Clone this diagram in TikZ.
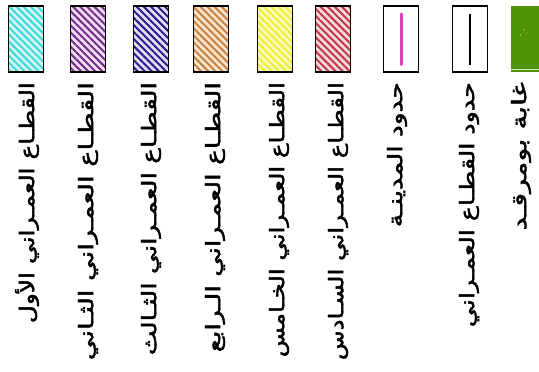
\documentclass[tikz,border=0pt]{standalone}
\usepackage{fontspec}
\usepackage{graphicx}
\usetikzlibrary{patterns.meta}
\TeXXeTstate=1
\newfontfamily\arabicfont[Script=Arabic,FakeBold=2]{DejaVu Sans}
\newcommand{\arlen}[2]{\resizebox{#1pt}{\height}{#2}}
\definecolor{cA}{HTML}{3DD9D6}\definecolor{bA}{HTML}{D4F6F5}
\definecolor{cB}{HTML}{70308A}\definecolor{bB}{HTML}{F3DDF3}
\definecolor{cC}{HTML}{2E1A8C}\definecolor{bC}{HTML}{E2DEF6}
\definecolor{cD}{HTML}{C8803A}\definecolor{bD}{HTML}{F6E6D2}
\definecolor{cE}{HTML}{EDED3A}\definecolor{bE}{HTML}{FBFBB8}
\definecolor{cF}{HTML}{C0384A}\definecolor{bF}{HTML}{F6DADA}
\definecolor{pinkline}{HTML}{E23DB4}
\definecolor{forest}{HTML}{4F9406}
\tikzset{
  swatch/.style={draw=black, line width=1.5pt, minimum width=35pt, minimum height=66pt, inner sep=0pt, anchor=north},
  hatch/.style 2 args={preaction={fill=#2}, preaction={pattern={Lines[angle=-45,distance=5pt,line width=2pt]}, pattern color=#1}},
  lbl/.style={rotate=90, anchor=east, inner sep=0pt, font=\arabicfont\fontsize{20}{20}\selectfont},
  bar/.style={line width=3pt, line cap=round},
}
\begin{document}
\begin{tikzpicture}[x=1pt,y=-1pt]
\useasboundingbox[fill=white] (0,0) rectangle (539,372);
\node[swatch, hatch={cA}{bA}] (s1) at (26,5) {};
\node[swatch, hatch={cB}{bB}] (s2) at (88,5) {};
\node[swatch, hatch={cC}{bC}] (s3) at (151,5) {};
\node[swatch, hatch={cD}{bD}] (s4) at (211,5) {};
\node[swatch, hatch={cE}{bE}] (s5) at (275,5) {};
\node[swatch, hatch={cF}{bF}] (s6) at (333,5) {};
\node[swatch, fill=white] (s7) at (401,5) {};
\node[swatch, fill=white] (s8) at (470,5) {};
\node[swatch, draw=none, fill=forest] (s9) at (528,5) {};
\draw[bar, pinkline] ([yshift=-9pt]s7.north) -- ([yshift=8pt]s7.south);
\draw[bar, black, line width=2.5pt, line cap=butt] ([yshift=-9pt]s8.north) -- ([yshift=8pt]s8.south);
\draw[white!80!forest, line width=0.6pt] ([yshift=3pt]s9.south west) -- ([yshift=3pt]s9.south east);
\fill[yellow!70] ([xshift=14pt,yshift=-25pt]s9.north west) circle (0.7pt)
                 ([xshift=11pt,yshift=-30pt]s9.north west) circle (0.7pt)
                 ([xshift=17pt,yshift=-28pt]s9.north west) circle (0.5pt);
\node[lbl] (t1) at (27,82) {\arlen{241}{\beginR القطـاع العمـراني الأول\endR}};
\node[lbl] (t2) at (88,82) {\arlen{278}{\beginR القطـاع العمـراني الثـاني\endR}};
\node[lbl] (t3) at (151,82) {\arlen{273}{\beginR القطـاع العمـراني الثـالث\endR}};
\node[lbl] (t4) at (215,82) {\arlen{270}{\beginR القطـاع العمـراني الـرابع\endR}};
\node[lbl] (t5) at (279,82) {\arlen{275}{\beginR القطـاع العمـراني الخـامس\endR}};
\node[lbl] (t6) at (338,82) {\arlen{278}{\beginR القطـاع العمـراني السـادس\endR}};
\node[lbl] (t7) at (397,82) {\arlen{145}{\beginR حدود المدينـة\endR}};
\node[lbl] (t8) at (469,82) {\arlen{245}{\beginR حدود القطـاع العمـراني\endR}};
\node[lbl] (t9) at (521,82) {\arlen{148}{\beginR غابة بومرقـد\endR}};
\end{tikzpicture}
\end{document}
